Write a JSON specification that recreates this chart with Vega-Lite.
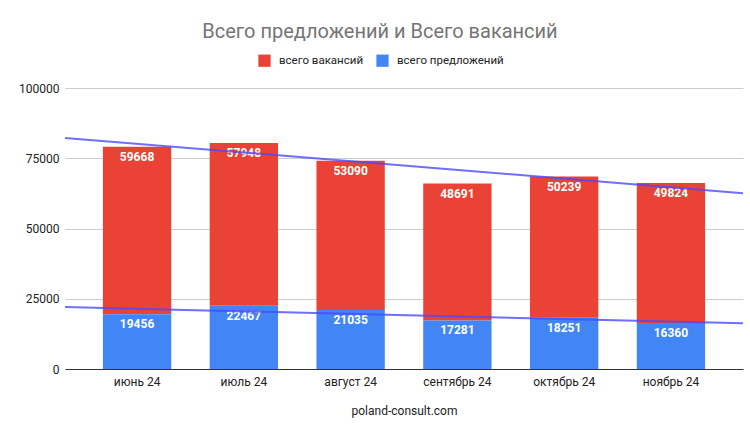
{
  "$schema": "https://vega.github.io/schema/vega-lite/v6.json",
  "width": 678,
  "height": 281,
  "autosize": {"type": "none"},
  "padding": {"left": 65, "top": 88, "right": 7, "bottom": 63},
  "background": "white",
  "config": {
    "font": "Roboto",
    "view": {"stroke": null},
    "axis": {"labelFont": "Roboto", "titleFont": "Roboto"}
  },
  "title": {
    "text": "Всего предложений и Всего вакансий",
    "font": "Roboto",
    "fontSize": 20,
    "fontWeight": "normal",
    "color": "#757575",
    "anchor": "middle",
    "dx": -24,
    "offset": 12
  },
  "data": {
    "values": [
      {"month": "июнь 24", "i": 0, "series": "всего вакансий", "value": 59668},
      {"month": "июнь 24", "i": 0, "series": "всего предложений", "value": 19456},
      {"month": "июль 24", "i": 1, "series": "всего вакансий", "value": 57948},
      {"month": "июль 24", "i": 1, "series": "всего предложений", "value": 22467},
      {"month": "август 24", "i": 2, "series": "всего вакансий", "value": 53090},
      {"month": "август 24", "i": 2, "series": "всего предложений", "value": 21035},
      {"month": "сентябрь 24", "i": 3, "series": "всего вакансий", "value": 48691},
      {"month": "сентябрь 24", "i": 3, "series": "всего предложений", "value": 17281},
      {"month": "октябрь 24", "i": 4, "series": "всего вакансий", "value": 50239},
      {"month": "октябрь 24", "i": 4, "series": "всего предложений", "value": 18251},
      {"month": "ноябрь 24", "i": 5, "series": "всего вакансий", "value": 49824},
      {"month": "ноябрь 24", "i": 5, "series": "всего предложений", "value": 16360}
    ]
  },
  "layer": [
    {
      "encoding": {
        "x": {
          "field": "month",
          "type": "ordinal",
          "sort": null,
          "scale": {"paddingInner": 0.36, "paddingOuter": 0.355},
          "axis": {
            "title": "poland-consult.com",
            "titleFontSize": 12,
            "titleFontWeight": "normal",
            "titleColor": "#222222",
            "titlePadding": 18,
            "labelAngle": 0,
            "labelFontSize": 12,
            "labelColor": "#222222",
            "labelPadding": 7,
            "ticks": false,
            "domainColor": "#333333",
            "domainWidth": 1
          }
        },
        "y": {
          "field": "value",
          "type": "quantitative",
          "stack": "zero",
          "scale": {"domain": [0, 100000], "nice": false},
          "axis": {
            "title": null,
            "values": [0, 25000, 50000, 75000, 100000],
            "format": "d",
            "labelFontSize": 12,
            "labelColor": "#222222",
            "labelPadding": 6,
            "ticks": false,
            "domain": false,
            "gridColor": "#cccccc",
            "gridWidth": 1
          }
        },
        "order": {"field": "series", "sort": "descending"}
      },
      "layer": [
        {
          "mark": {"type": "bar"},
          "encoding": {
            "color": {
              "field": "series",
              "type": "nominal",
              "scale": {
                "domain": ["всего вакансий", "всего предложений"],
                "range": ["#EA4335", "#4285F4"]
              },
              "legend": {
                "title": null,
                "orient": "none",
                "direction": "horizontal",
                "legendX": 193,
                "legendY": -34,
                "symbolType": "square",
                "symbolSize": 150,
                "symbolStrokeWidth": 0,
                "labelFontSize": 11.5,
                "labelColor": "#222222",
                "columnPadding": 12,
                "labelOffset": 8
              }
            }
          }
        },
        {
          "mark": {
            "type": "text",
            "color": "white",
            "fontSize": 12,
            "fontWeight": "bold",
            "baseline": "middle",
            "dy": 10
          },
          "encoding": {
            "text": {"field": "value", "type": "quantitative", "format": "d"}
          }
        }
      ]
    },
    {
      "transform": [
        {"aggregate": [{"op": "sum", "field": "value", "as": "value"}], "groupby": ["i"]},
        {"regression": "value", "on": "i", "extent": [-0.675, 5.675]}
      ],
      "mark": {"type": "line", "stroke": "#4a4aff", "strokeWidth": 2, "opacity": 0.8},
      "encoding": {
        "x": {
          "field": "i",
          "type": "quantitative",
          "scale": {"domain": [-0.675, 5.675], "nice": false, "zero": false},
          "axis": null
        },
        "y": {"field": "value", "type": "quantitative"}
      }
    },
    {
      "transform": [
        {"filter": "datum.series === 'всего предложений'"},
        {"regression": "value", "on": "i", "extent": [-0.675, 5.675]}
      ],
      "mark": {"type": "line", "stroke": "#4a4aff", "strokeWidth": 2, "opacity": 0.8},
      "encoding": {
        "x": {
          "field": "i",
          "type": "quantitative",
          "scale": {"domain": [-0.675, 5.675], "nice": false, "zero": false},
          "axis": null
        },
        "y": {"field": "value", "type": "quantitative"}
      }
    }
  ],
  "resolve": {"scale": {"x": "independent"}}
}
